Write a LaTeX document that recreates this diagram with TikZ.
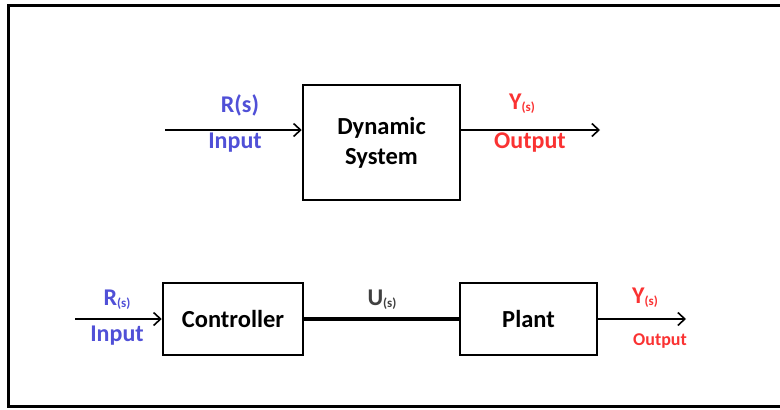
\documentclass[tikz,border=0pt]{standalone}
\usepackage{fontspec}
\setmainfont{Carlito}
\usetikzlibrary{arrows.meta}
\definecolor{inblue}{RGB}{80,80,215}
\definecolor{outred}{RGB}{250,50,50}
\newcommand{\sbs}{\raisebox{-2pt}{\fontsize{13}{14}\selectfont(s)}}
\begin{document}
\begin{tikzpicture}[x=1pt,y=-1pt,
  blockbox/.style={draw,line width=2.5pt,inner sep=0pt,font=\bfseries\fontsize{24.5}{30}\selectfont,align=center},
  sig/.style={line width=1.8pt,-{Straight Barb[length=7pt,width=13pt,line width=1.6pt]}},
  lbl/.style={font=\bfseries\fontsize{24}{28}\selectfont,inner sep=0pt}]
\useasboundingbox (0,0) rectangle (780,410);
\draw[line width=3pt] (8,5) rectangle (790,406);
% top
\node[blockbox,minimum width=157pt,minimum height=115pt] (dyn) at (381.5,142.5) {Dynamic\\System};
\coordinate (tin) at (165,130);
\coordinate (tout) at (600,130);
\draw[sig] (tin) -- (tin-|dyn.west);
\draw[sig] (tout-|dyn.east) -- (tout);
\node[lbl,text=inblue] (r1) at (240,105) {R(s)};
\node[lbl,text=inblue] (i1) at (235,143) {Input};
\node[lbl,text=outred] (y1) at (522,104) {Y\sbs};
\node[lbl,text=outred] (o1) at (530,143) {Output};
% bottom
\node[blockbox,minimum width=140pt,minimum height=72pt] (ctrl) at (233,319) {Controller};
\node[blockbox,minimum width=137pt,minimum height=72pt] (plant) at (528.5,319) {Plant};
\draw[line width=4.5pt] (ctrl.east) -- (plant.west);
\coordinate (bin) at (75,319);
\coordinate (bout) at (686,319);
\draw[sig] (bin) -- (ctrl.west);
\draw[sig] (plant.east) -- (bout);
\node[lbl,text=inblue] (r2) at (117,300) {R\sbs};
\node[lbl,text=inblue] (i2) at (117,336) {Input};
\node[lbl,text=black!75] (u) at (382,300) {U\sbs};
\node[lbl,text=outred] (y2) at (645,298) {Y\sbs};
\node[lbl,text=outred,font=\bfseries\fontsize{18}{20}\selectfont] (o2) at (660,341) {Output};
\end{tikzpicture}
\end{document}
